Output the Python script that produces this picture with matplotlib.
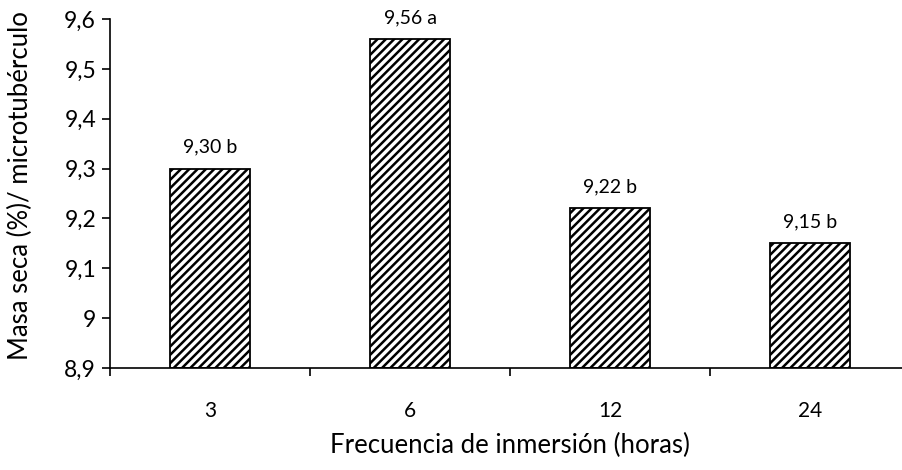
import matplotlib
matplotlib.use("Agg")
import matplotlib.pyplot as plt

categories = ["3", "6", "12", "24"]
values = [9.30, 9.56, 9.22, 9.15]
bar_labels = ["9,30 b", "9,56 a", "9,22 b", "9,15 b"]
yticks = [8.9, 9.0, 9.1, 9.2, 9.3, 9.4, 9.5, 9.6]
ytick_labels = ["8,9", "9", "9,1", "9,2", "9,3", "9,4", "9,5", "9,6"]

plt.rcParams['font.family'] = ['Lato', 'DejaVu Sans']
plt.rcParams['hatch.linewidth'] = 1.8

W, H = 902, 470
fig = plt.figure(figsize=(W / 100, H / 100), dpi=100)
left, right, top, bottom = 110, 910, 19, 368
ax = fig.add_axes([left / W, 1 - bottom / H, (right - left) / W, (bottom - top) / H])

x = list(range(len(categories)))
ax.bar(x, [v - 8.9 for v in values], bottom=8.9, width=0.4, color="white",
       edgecolor="black", linewidth=1.3, hatch="////")

for xi, v, lab in zip(x, values, bar_labels):
    ax.annotate(lab, (xi, v), xytext=(0, 11.5), textcoords="offset points",
                ha="center", va="baseline", fontsize=14)

ax.set_xlim(-0.5, len(categories) - 0.5)
ax.set_ylim(8.9, 9.6)
ax.set_yticks(yticks)
ax.set_yticklabels(ytick_labels, fontsize=16.5)
ax.set_xticks(x)
ax.set_xticklabels(categories, fontsize=15)
ax.set_xticks([i - 0.5 for i in range(len(categories) + 1)], minor=True)
ax.tick_params(axis="x", which="major", length=0, pad=24)
ax.tick_params(axis="x", which="minor", length=6, width=1.2, direction="out")
ax.tick_params(axis="y", length=6, width=1.2, direction="out", pad=4)

for s in ["top", "right"]:
    ax.spines[s].set_visible(False)
for s in ["left", "bottom"]:
    ax.spines[s].set_linewidth(1.2)

ax.set_xlabel("Frecuencia de inmersión (horas)", fontsize=18.5)
ax.set_ylabel("Masa seca (%)/ microtubérculo", fontsize=18.5)
ax.xaxis.set_label_coords(0.5, -0.185)
ax.yaxis.set_label_coords(-0.096, 0.524)

fig.savefig("out.png", dpi=100)
